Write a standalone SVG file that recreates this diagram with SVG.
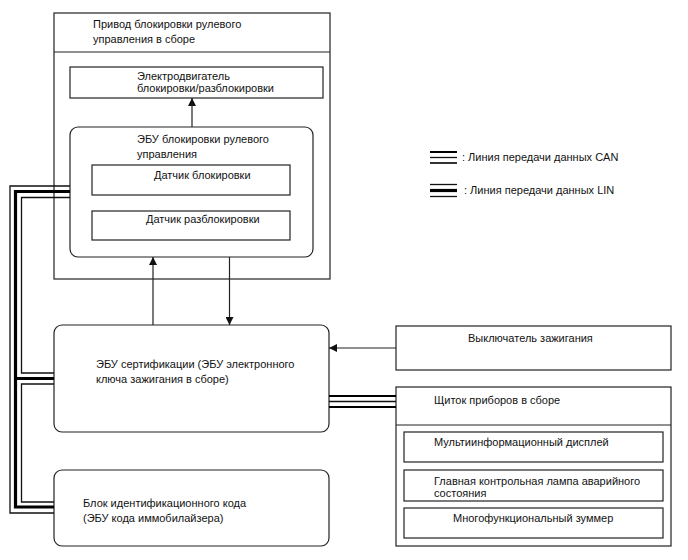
<svg xmlns="http://www.w3.org/2000/svg" width="688" height="560" viewBox="0 0 688 560">
<defs>
<style>
.box{fill:#fff;stroke:#222;stroke-width:1.2}
.ln{fill:none;stroke:#222;stroke-width:1.2}
.thin{fill:none;stroke:#111;stroke-width:1.3}
.thk{fill:none;stroke:#000;stroke-width:3.2}
.can{fill:none;stroke:#000;stroke-width:2}
text{font-family:"Liberation Sans",Arial,sans-serif;font-size:11px;fill:#111}
</style>
<marker id="ah" viewBox="0 0 10 10" refX="10" refY="5" markerWidth="12" markerHeight="8" markerUnits="userSpaceOnUse" orient="auto">
<path d="M0,0 L10,5 L0,10 z" fill="#111"/>
</marker>
</defs>
<rect width="688" height="560" fill="#fff"/>

<g id="steering-lock-actuator">
<rect class="box" x="54" y="13" width="276" height="266"/>
<line class="ln" x1="54" y1="52" x2="330" y2="52"/>
<text x="93" y="28">Привод блокировки рулевого</text>
<text x="93" y="43">управления в сборе</text>
</g>

<g id="motor">
<rect class="box" x="70" y="67" width="253" height="31"/>
<text x="137" y="80">Электродвигатель</text>
<text x="137" y="92">блокировки/разблокировки</text>
</g>

<g id="steering-lock-ecu">
<rect class="box" x="70" y="127" width="243" height="130" rx="8"/>
<text x="137" y="143">ЭБУ блокировки рулевого</text>
<text x="137" y="158">управления</text>
</g>

<g id="lock-sensor">
<rect class="box" x="92" y="165" width="198" height="30"/>
<text x="154" y="179">Датчик блокировки</text>
</g>

<g id="unlock-sensor">
<rect class="box" x="92" y="211" width="198" height="29"/>
<text x="146" y="223">Датчик разблокировки</text>
</g>

<g id="certification-ecu">
<rect class="box" x="54" y="325" width="275" height="107" rx="8"/>
<text x="96" y="368">ЭБУ сертификации (ЭБУ электронного</text>
<text x="96" y="383">ключа зажигания в сборе)</text>
</g>

<g id="immobilizer-code-ecu">
<rect class="box" x="54" y="470" width="275" height="76" rx="8"/>
<text x="83" y="507">Блок идентификационного кода</text>
<text x="83" y="522">(ЭБУ кода иммобилайзера)</text>
</g>

<g id="ignition-switch">
<rect class="box" x="396" y="326" width="275" height="44"/>
<text x="468" y="342">Выключатель зажигания</text>
</g>

<g id="combination-meter">
<rect class="box" x="396" y="387" width="275" height="159"/>
<line class="ln" x1="396" y1="425" x2="671" y2="425"/>
<text x="434" y="404">Щиток приборов в сборе</text>
</g>

<g id="multi-display">
<rect class="box" x="404" y="432" width="259" height="30"/>
<text x="434" y="446">Мультиинформационный дисплей</text>
</g>

<g id="master-warning">
<rect class="box" x="404" y="470" width="259" height="31"/>
<text x="434" y="485">Главная контрольная лампа аварийного</text>
<text x="434" y="497">состояния</text>
</g>

<g id="buzzer">
<rect class="box" x="404" y="508" width="259" height="30"/>
<text x="453" y="522">Многофункциональный зуммер</text>
</g>

<g id="legend">
<line class="can" x1="430" y1="152" x2="457" y2="152"/>
<line class="thin" x1="430" y1="157.5" x2="457" y2="157.5"/>
<line class="can" x1="430" y1="163" x2="457" y2="163" style="stroke-width:1.6"/>
<text x="462" y="161">: Линия передачи данных CAN</text>
<line class="thin" x1="430" y1="184.5" x2="457" y2="184.5"/>
<line class="thk" x1="430" y1="190.5" x2="457" y2="190.5"/>
<line class="thin" x1="430" y1="196.5" x2="457" y2="196.5"/>
<text x="464" y="194">: Линия передачи данных LIN</text>
</g>

<g id="connectors">
<line class="ln" x1="192" y1="127" x2="192" y2="98" marker-end="url(#ah)"/>
<line class="ln" x1="153" y1="325" x2="153" y2="257" marker-end="url(#ah)"/>
<line class="ln" x1="229.5" y1="257" x2="229.5" y2="325" marker-end="url(#ah)"/>
<line class="ln" x1="396" y1="348" x2="329" y2="348" marker-end="url(#ah)"/>
<line class="can" x1="329" y1="396" x2="396" y2="396"/>
<line class="thin" x1="329" y1="401.5" x2="396" y2="401.5"/>
<line class="can" x1="329" y1="407" x2="396" y2="407"/>
<path class="thin" d="M70,186 H10 V513 H54"/>
<path class="thk" d="M70,191.5 H15.5 V507 H54"/>
<path class="thk" d="M15.5,378.5 H54"/>
<path class="thin" d="M70,197.5 H21.5 V373 H54"/>
<path class="thin" d="M54,384 H21.5 V502 H54"/>
</g>
</svg>
